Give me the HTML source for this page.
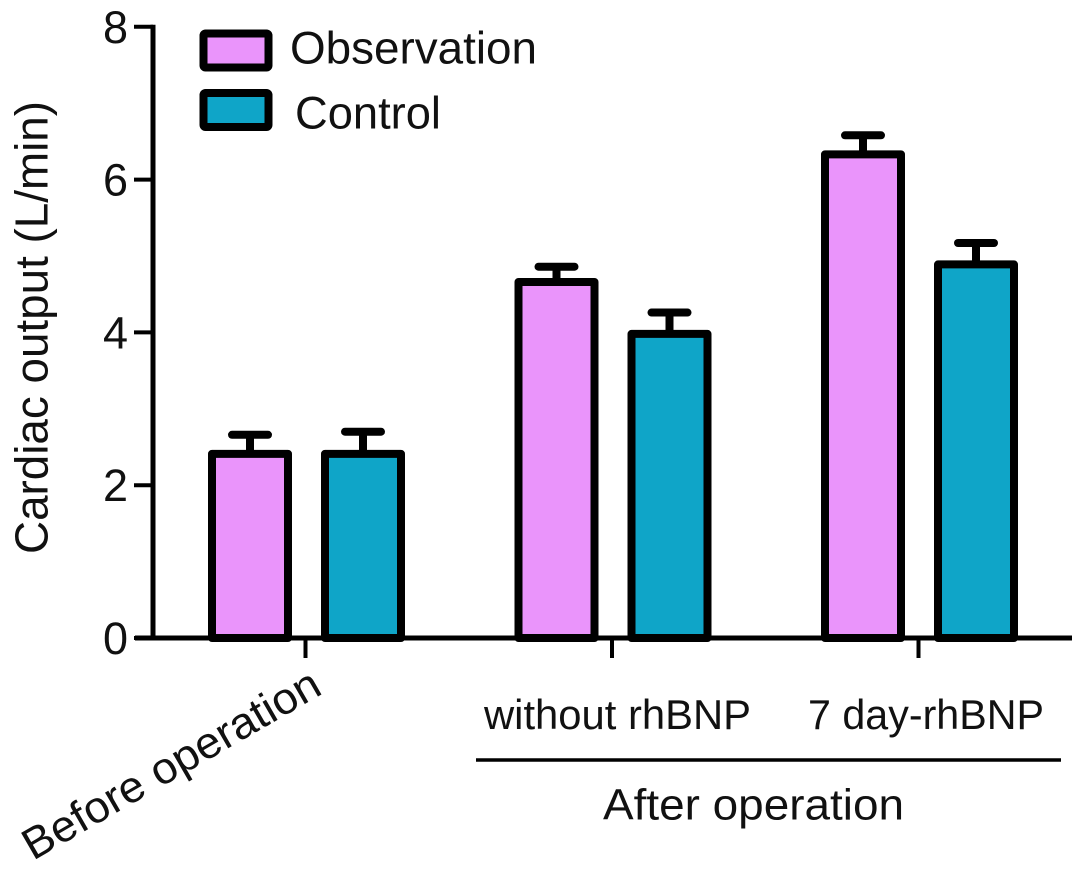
<!DOCTYPE html>
<html>
<head>
<meta charset="utf-8">
<style>
html,body{margin:0;padding:0;background:#fff;}
svg{display:block;}
text{font-family:"Liberation Sans",sans-serif;fill:#111;}
</style>
</head>
<body>
<svg id="chart" width="1087" height="875" viewBox="0 0 1087 875" xmlns="http://www.w3.org/2000/svg">
  <g id="axes"></g>
  <g id="bars"></g>
  <g>
    <rect x="203.500" y="33.500" width="65" height="34" rx="2" fill="#ea94fb" stroke="#000" stroke-width="8"/>
    <text x="290" y="63.500" font-size="45" textLength="247" lengthAdjust="spacingAndGlyphs">Observation</text>
    <rect x="203.500" y="93" width="65" height="34" rx="2" fill="#0fa5c8" stroke="#000" stroke-width="8"/>
    <text x="295" y="128.500" font-size="45" textLength="146" lengthAdjust="spacingAndGlyphs">Control</text>
  </g>
  <text transform="translate(47.500,554) rotate(-90)" font-size="46" textLength="453" lengthAdjust="spacingAndGlyphs">Cardiac output (L/min)</text>
  <text transform="translate(33,861) rotate(-30)" font-size="44" textLength="336" lengthAdjust="spacingAndGlyphs">Before operation</text>
  <text x="484" y="729" font-size="42" textLength="267" lengthAdjust="spacingAndGlyphs">without rhBNP</text>
  <text x="808" y="729" font-size="42" textLength="236" lengthAdjust="spacingAndGlyphs">7 day-rhBNP</text>
  <line x1="476" y1="760" x2="1061" y2="760" stroke="#000" stroke-width="3.500"/>
  <text x="603" y="819.500" font-size="44" textLength="301" lengthAdjust="spacingAndGlyphs">After operation</text>
</svg>
<script>
var yTicks = [0, 2, 4, 6, 8];
var groups = ['Before operation', 'without rhBNP', '7 day-rhBNP'];
var observationValues = [2.41, 4.66, 6.33];
var observationErrors = [0.25, 0.20, 0.25];
var controlValues = [2.41, 3.98, 4.89];
var controlErrors = [0.29, 0.28, 0.28];

var NS = 'http://www.w3.org/2000/svg';
var axes = document.getElementById('axes');
var bars = document.getElementById('bars');

function yScale(v) { return 638 - v * 76.4; }
function groupCenter(i) { return 305.500 + i * 306.500; }

function make(parent, tag, attrs) {
  var el = document.createElementNS(NS, tag);
  for (var k in attrs) el.setAttribute(k, attrs[k]);
  parent.appendChild(el);
  return el;
}

var yAxisLine = make(axes, 'line', {x1: 153, y1: yScale(8) - 2, x2: 153, y2: yScale(0), stroke: '#000', 'stroke-width': 5});



var xAxisLine = make(axes, 'line', {x1: 135, y1: yScale(0), x2: 1072, y2: yScale(0), stroke: '#000', 'stroke-width': 5});



yTicks.forEach(function (t) {
  var y = yScale(t);
  var tick = make(axes, 'line', {x1: 134, y1: y, x2: 153, y2: y, stroke: '#000', 'stroke-width': 4});
  
  
  var label = make(axes, 'text', {x: 128, y: y + 16, 'font-size': 45, 'text-anchor': 'end'});
  
  
  label.textContent = t;
});

groups.forEach(function (g, i) {
  var x = groupCenter(i);
  var tick = make(axes, 'line', {x1: x, y1: yScale(0), x2: x, y2: yScale(0) + 20, stroke: '#000', 'stroke-width': 4});
  
  
});

function drawBar(cx, value, err, fill, name) {
  var top = yScale(value);
  var capY = yScale(value + err);
  var stem = make(bars, 'line', {x1: cx, y1: top, x2: cx, y2: capY, stroke: '#000', 'stroke-width': 8});
  
  
  var cap = make(bars, 'line', {x1: cx - 18, y1: capY, x2: cx + 18, y2: capY, stroke: '#000', 'stroke-width': 8, 'stroke-linecap': 'round'});
  
  
  var rect = make(bars, 'rect', {x: cx - 38, y: top, width: 76, height: yScale(0) - top, fill: fill, stroke: '#000', 'stroke-width': 8, 'stroke-linejoin': 'round'});
  
  
}

groups.forEach(function (g, i) {
  var c = groupCenter(i);
  drawBar(c - 55.5, observationValues[i], observationErrors[i], '#ea94fb', 'observation');
  drawBar(c + 57.5, controlValues[i], controlErrors[i], '#0fa5c8', 'control');
});
</script>
</body>
</html>
